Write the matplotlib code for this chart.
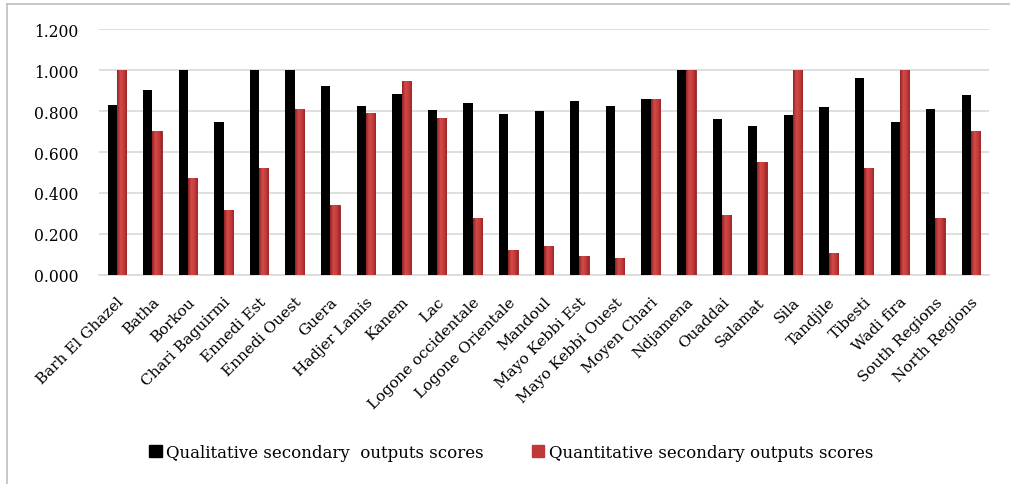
#Grouped bar chart of secondary output scores by region

import numpy as np
import matplotlib
matplotlib.use('Agg')
import matplotlib.pyplot as plt
from matplotlib.colors import LinearSegmentedColormap
from matplotlib.lines import Line2D


#Regions
regions = ['Barh El Ghazel', 'Batha', 'Borkou', 'Chari Baguirmi', 'Ennedi Est',
           'Ennedi Ouest', 'Guera', 'Hadjer Lamis', 'Kanem', 'Lac',
           'Logone occidentale', 'Logone Orientale', 'Mandoul', 'Mayo Kebbi Est',
           'Mayo Kebbi Ouest', 'Moyen Chari', 'Ndjamena', 'Ouaddai', 'Salamat',
           'Sila', 'Tandjile', 'Tibesti', 'Wadi fira', 'South Regions', 'North Regions']

#Scores
qualitative = [0.831, 0.904, 1.000, 0.746, 1.000, 1.000, 0.922, 0.824, 0.884, 0.806,
               0.837, 0.785, 0.798, 0.850, 0.824, 0.857, 1.000, 0.759, 0.727,
               0.779, 0.818, 0.961, 0.746, 0.811, 0.876]
quantitative = [1.000, 0.701, 0.472, 0.316, 0.523, 0.811, 0.341, 0.790, 0.948, 0.766,
                0.276, 0.120, 0.140, 0.094, 0.081, 0.857, 1.000, 0.294, 0.550,
                1.000, 0.107, 0.523, 1.000, 0.276, 0.701]

y_ticks = [0.0, 0.2, 0.4, 0.6, 0.8, 1.0, 1.2]
legend_labels = ['Qualitative secondary  outputs scores',
                 'Quantitative secondary outputs scores']


def main():

    plt.rcParams['font.family'] = ['DejaVu Serif']

    fig = plt.figure(figsize=(10.1, 4.85), dpi=100)
    ax = fig.add_axes([0.098, 0.431, 0.881, 0.507])

    x = np.arange(len(regions))
    width = 0.26

    #Bars
    ax.bar(x - width / 2, qualitative, width, color='black', zorder=3)
    red_bars = ax.bar(x + width / 2, quantitative, width, color='#C0393A',
                      edgecolor='#8E2224', linewidth=0.6, zorder=3)

    #Shaded look for the red bars
    shade = LinearSegmentedColormap.from_list(
        'shade', ['#8E2224', '#D24A48', '#C73C3C', '#9C2628'])
    grad = np.linspace(0, 1, 64).reshape(1, -1)
    for bar in red_bars:
        x0 = bar.get_x()
        h = bar.get_height()
        im = ax.imshow(grad, cmap=shade, aspect='auto', zorder=4,
                       extent=(x0, x0 + bar.get_width(), 0, h))
        im.set_clip_path(bar)

    #Axes
    ax.set_xlim(-0.5, len(regions) - 0.5)
    ax.set_ylim(0, 1.2)
    ax.set_yticks(y_ticks)
    ax.set_yticklabels([f"{v:.3f}" for v in y_ticks], fontsize=11.2)
    ax.set_xticks(x)
    ax.set_xticklabels(regions, rotation=45, ha='right', rotation_mode='anchor',
                       fontsize=11)
    ax.tick_params(axis='y', length=0, pad=15)
    ax.tick_params(axis='x', length=0, pad=14)
    ax.yaxis.grid(True, color='#D9D9D9', linewidth=1.2, zorder=0)
    for side in ['top', 'right', 'left']:
        ax.spines[side].set_visible(False)
    ax.spines['bottom'].set_color('#D9D9D9')
    ax.spines['bottom'].set_linewidth(1.2)

    #Legend
    handles = [plt.Rectangle((0, 0), 1, 1, color='black'),
               plt.Rectangle((0, 0), 1, 1, color='#C0393A')]
    fig.legend(handles, legend_labels, loc='center', bbox_to_anchor=(0.506, 0.065),
               ncol=2, frameon=False, fontsize=12, handlelength=0.75,
               handleheight=0.75, handletextpad=0.25, columnspacing=2.9)

    #Frame lines
    fig.add_artist(Line2D([0.007, 1.0], [0.99, 0.99], color='#BFBFBF', linewidth=1.2))
    fig.add_artist(Line2D([0.007, 0.007], [0.0, 0.99], color='#BFBFBF', linewidth=1.2))

    fig.savefig('out.png', dpi=100)


#Main call
if __name__ == "__main__":
    main()
